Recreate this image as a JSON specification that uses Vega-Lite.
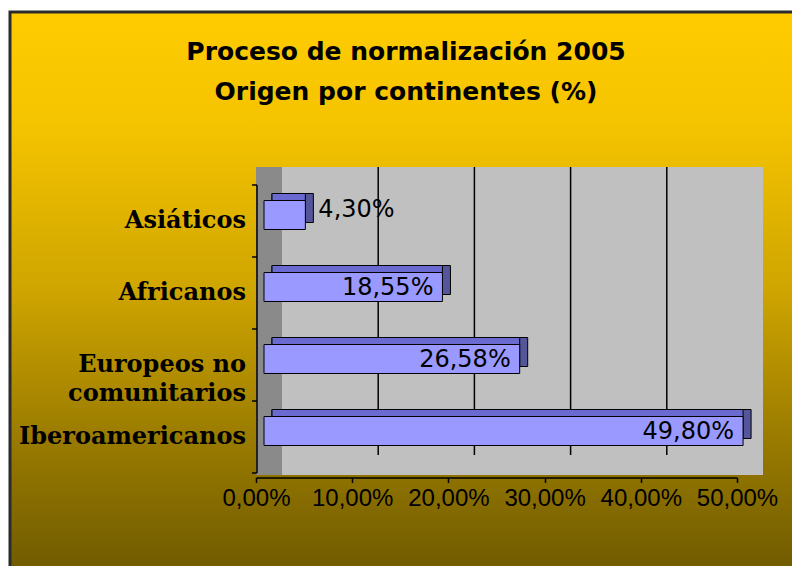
{
  "$schema": "https://vega.github.io/schema/vega-lite/v6.json",
  "autosize": {"type": "none"},
  "padding": {"left": 10, "top": 12, "right": 0, "bottom": 0},
  "width": 782,
  "height": 554,
  "background": "white",
  "title": {
    "text": ["Proceso de normalización 2005", "Origen por continentes (%)"],
    "font": "DejaVu Sans",
    "fontSize": 25,
    "fontWeight": "bold",
    "color": "#000000",
    "lineHeight": 40,
    "anchor": "middle",
    "frame": "group",
    "offset": -105,
    "dx": 5
  },
  "data": {
    "values": [
      {"origen": "Asiáticos", "valor": 4.30, "etiqueta": "4,30%"},
      {"origen": "Africanos", "valor": 18.55, "etiqueta": "18,55%"},
      {"origen": "Europeos no comunitarios", "valor": 26.58, "etiqueta": "26,58%"},
      {"origen": "Iberoamericanos", "valor": 49.80, "etiqueta": "49,80%"}
    ]
  },
  "layer": [
    {
      "mark": {"type": "bar", "color": "#C0C0C0", "height": 92, "yOffset": -1, "y2Offset": -1, "x2Offset": 18},
      "encoding": {
        "x": {
          "datum": 0,
          "type": "quantitative",
          "scale": {"domain": [0, 50], "range": [254, 735], "nice": false, "zero": true},
          "axis": {
            "orient": "bottom",
            "title": null,
            "values": [0, 10, 20, 30, 40, 50],
            "labelExpr": "replace(format(datum.value, '.2f'), '.', ',') + '%'",
            "offset": -80.5,
            "translate": -7.5,
            "grid": false,
            "zindex": 1,
            "domainColor": "#000000",
            "domainWidth": 1.5,
            "tickColor": "#000000",
            "tickSize": 5,
            "tickWidth": 1.5,
            "labelFont": "Liberation Sans",
            "labelFontSize": 24,
            "labelColor": "#000000",
            "labelPadding": 4,
            "labelFlush": false
          }
        },
        "x2": {"datum": 50},
        "y": {
          "field": "origen",
          "type": "nominal",
          "scale": {
            "domain": ["Asiáticos", "Africanos", "Europeos no comunitarios", "Iberoamericanos"],
            "range": [166, 454],
            "paddingInner": 0,
            "paddingOuter": 0
          },
          "axis": {
            "orient": "left",
            "title": null,
            "offset": -240,
            "translate": 7,
            "tickBand": "extent",
            "grid": false,
            "zindex": 1,
            "domainColor": "#000000",
            "domainWidth": 1.5,
            "tickColor": "#000000",
            "tickSize": 5,
            "tickWidth": 1.5,
            "labelFont": "DejaVu Serif",
            "labelFontSize": 24,
            "labelFontWeight": "bold",
            "labelColor": "#000000",
            "labelPadding": 6,
            "labelLineHeight": 29,
            "labelBaseline": "middle",
            "labelLimit": 300,
            "labelExpr": "datum.value == 'Europeos no comunitarios' ? ['Europeos no', 'comunitarios'] : datum.value"
          }
        }
      }
    },
    {
      "mark": {"type": "bar", "color": "#8A8A8A", "height": 92, "yOffset": -1, "y2Offset": -1, "xOffset": -8, "x2Offset": 18},
      "encoding": {
        "x": {"datum": 0, "type": "quantitative", "title": null},
        "x2": {"datum": 0},
        "y": {"field": "origen", "type": "nominal", "title": null}
      }
    },
    {
      "data": {"values": [{"t": 10}, {"t": 20}, {"t": 30}, {"t": 40}]},
      "mark": {"type": "rule", "color": "#000000", "strokeWidth": 1.5, "xOffset": 18, "yOffset": -47, "y2Offset": 25},
      "encoding": {
        "x": {"field": "t", "type": "quantitative", "title": null},
        "y": {"datum": "Asiáticos", "type": "nominal", "title": null},
        "y2": {"datum": "Iberoamericanos"}
      }
    },
    {
      "mark": {"type": "bar", "color": "#55559A", "stroke": "#000000", "strokeWidth": 1, "height": 29, "xOffset": 8, "x2Offset": 8, "yOffset": -6, "y2Offset": -6},
      "encoding": {
        "x": {"field": "valor", "type": "quantitative", "title": null},
        "x2": {"datum": 0},
        "y": {"field": "origen", "type": "nominal", "title": null}
      }
    },
    {
      "mark": {"type": "bar", "color": "#6A6AD0", "stroke": "#000000", "strokeWidth": 1, "height": 29, "xOffset": 0, "x2Offset": 8, "yOffset": -6, "y2Offset": -6},
      "encoding": {
        "x": {"field": "valor", "type": "quantitative", "title": null},
        "x2": {"datum": 0},
        "y": {"field": "origen", "type": "nominal", "title": null}
      }
    },
    {
      "mark": {"type": "bar", "color": "#9999FF", "stroke": "#000000", "strokeWidth": 1, "height": 29, "yOffset": 1, "y2Offset": 1},
      "encoding": {
        "x": {"field": "valor", "type": "quantitative", "title": null},
        "y": {"field": "origen", "type": "nominal", "title": null}
      }
    },
    {
      "transform": [{"filter": "datum.valor >= 10"}],
      "mark": {"type": "text", "font": "DejaVu Sans", "fontSize": 24, "color": "#000000", "align": "right", "baseline": "middle", "dx": -9, "dy": 2},
      "encoding": {
        "x": {"field": "valor", "type": "quantitative", "title": null},
        "y": {"field": "origen", "type": "nominal", "title": null},
        "text": {"field": "etiqueta"}
      }
    },
    {
      "transform": [{"filter": "datum.valor < 10"}],
      "mark": {"type": "text", "font": "DejaVu Sans", "fontSize": 24, "color": "#000000", "align": "left", "baseline": "middle", "dx": 13, "dy": -4},
      "encoding": {
        "x": {"field": "valor", "type": "quantitative", "title": null},
        "y": {"field": "origen", "type": "nominal", "title": null},
        "text": {"field": "etiqueta"}
      }
    }
  ],
  "config": {
    "axis": {"grid": false},
    "view": {
      "fill": {
        "gradient": "linear",
        "x1": 0, "y1": 0, "x2": 0, "y2": 1,
        "stops": [
          {"offset": 0, "color": "#FFCC00"},
          {"offset": 0.2, "color": "#F5C400"},
          {"offset": 0.5, "color": "#CFA500"},
          {"offset": 0.77, "color": "#9A7B00"},
          {"offset": 1, "color": "#715C00"}
        ]
      },
      "stroke": "#2B2B2B",
      "strokeWidth": 3,
      "strokeDash": [782, 1336, 554, 10]
    }
  }
}
